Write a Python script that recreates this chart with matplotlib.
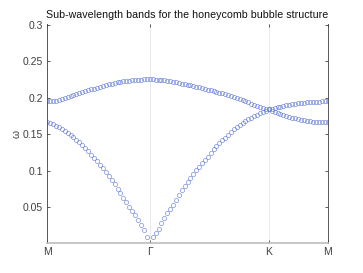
import numpy as np
import matplotlib
matplotlib.use("Agg")
import matplotlib.pyplot as plt

# k-path M -> Gamma -> K -> M (segment lengths in units of |Gamma K|)
SEG_LEN = [np.sqrt(3) / 2, 1.0, 0.5]
SEG_PTS = [35, 41, 20]          # intervals per segment
TICK_LABELS = ["M", "\u0393", "K", "M"]

# lower band (omega at Gamma = 0 is not shown)
band1 = [
    0.1665, 0.1652, 0.1636, 0.1617, 0.1596, 0.1573, 0.1548, 0.1521, 0.1492, 0.1462,
    0.1424, 0.1388, 0.1350, 0.1308, 0.1265, 0.1220, 0.1175, 0.1130, 0.1083, 0.1036,
    0.0982, 0.0927, 0.0871, 0.0813, 0.0754, 0.0694, 0.0630, 0.0568, 0.0505, 0.0445,
    0.0385, 0.0320, 0.0250, 0.0180, 0.0092, np.nan,
    0.0085, 0.0140, 0.0203, 0.0280, 0.0350, 0.0415, 0.0475, 0.0530, 0.0597, 0.0670,
    0.0735, 0.0792, 0.0843, 0.0893, 0.0953, 0.1005, 0.1052, 0.1100, 0.1145, 0.1193,
    0.1245, 0.1293, 0.1338, 0.1378, 0.1415, 0.1452, 0.1490, 0.1527, 0.1565, 0.1598,
    0.1628, 0.1652, 0.1678, 0.1703, 0.1725, 0.1747, 0.1767, 0.1788, 0.1808, 0.1826,
    0.1842,
    0.1826, 0.1810, 0.1794, 0.1779, 0.1765, 0.1752, 0.1740, 0.1729, 0.1719, 0.1709,
    0.1700, 0.1692, 0.1685, 0.1679, 0.1674, 0.1670, 0.1667, 0.1666, 0.1665, 0.1665,
]

# upper band
band2 = [
    0.1950, 0.1951, 0.1955, 0.1962, 0.1972, 0.1985, 0.1998, 0.2011, 0.2024, 0.2037,
    0.2050, 0.2063, 0.2076, 0.2089, 0.2102, 0.2115, 0.2128, 0.2141, 0.2153, 0.2164,
    0.2175, 0.2186, 0.2195, 0.2204, 0.2212, 0.2220, 0.2227, 0.2233, 0.2238, 0.2243,
    0.2247, 0.2250, 0.2252, 0.2254, 0.2255, 0.2255,
    0.2254, 0.2252, 0.2249, 0.2245, 0.2240, 0.2234, 0.2228, 0.2221, 0.2213, 0.2205,
    0.2197, 0.2189, 0.2180, 0.2171, 0.2162, 0.2153, 0.2144, 0.2134, 0.2124, 0.2114,
    0.2104, 0.2094, 0.2083, 0.2072, 0.2061, 0.2049, 0.2037, 0.2024, 0.2011, 0.1997,
    0.1983, 0.1968, 0.1953, 0.1937, 0.1921, 0.1906, 0.1892, 0.1878, 0.1862, 0.1850,
    0.1842,
    0.1853, 0.1862, 0.1872, 0.1881, 0.1890, 0.1898, 0.1906, 0.1913, 0.1920, 0.1926,
    0.1931, 0.1936, 0.1940, 0.1943, 0.1946, 0.1948, 0.1949, 0.1950, 0.1950, 0.1950,
]

# build the path coordinate
ticks = np.concatenate([[0.0], np.cumsum(SEG_LEN)])
k = [np.linspace(ticks[0], ticks[1], SEG_PTS[0] + 1)]
for i in (1, 2):
    k.append(np.linspace(ticks[i], ticks[i + 1], SEG_PTS[i] + 1)[1:])
k = np.concatenate(k)

plt.rcParams["font.family"] = ["Liberation Sans", "DejaVu Sans"]

fig = plt.figure(figsize=(3.63, 2.73), dpi=100)
ax = fig.add_axes([47 / 363, 30 / 273, 281 / 363, 219 / 273])

mcol = "#5c74d8"
for band in (band1, band2):
    ax.plot(k, band, "o", ms=3.0, mfc="none", mec=mcol, mew=0.5, alpha=0.8)

ax.set_xlim(ticks[0], ticks[-1])
ax.set_ylim(0.0005, 0.3015)
ax.set_xticks(ticks)
ax.set_xticklabels(TICK_LABELS)
ax.set_yticks([0.05, 0.1, 0.15, 0.2, 0.25, 0.3])
ax.set_yticklabels(["0.05", "0.1", "0.15", "0.2", "0.25", "0.3"])
ax.grid(axis="x", color="#e6e6e6", lw=0.6)
ax.set_axisbelow(True)

ax.tick_params(direction="in", length=2.5, width=0.6, colors="#404040",
               labelsize=7.5, top=True, right=True, pad=3)
for s in ("left", "right"):
    ax.spines[s].set_color("#404040")
    ax.spines[s].set_linewidth(0.6)
ax.spines["bottom"].set_color("#bdbdbd")
ax.spines["bottom"].set_linewidth(1.2)
ax.spines["top"].set_visible(False)

ax.set_ylabel("\u03c9", fontsize=7.5, color="#404040", labelpad=1)
ax.set_title("Sub-wavelength bands for the honeycomb bubble structure",
             fontsize=7.7, color="#111111", pad=4)

fig.savefig("out.png", dpi=100)
